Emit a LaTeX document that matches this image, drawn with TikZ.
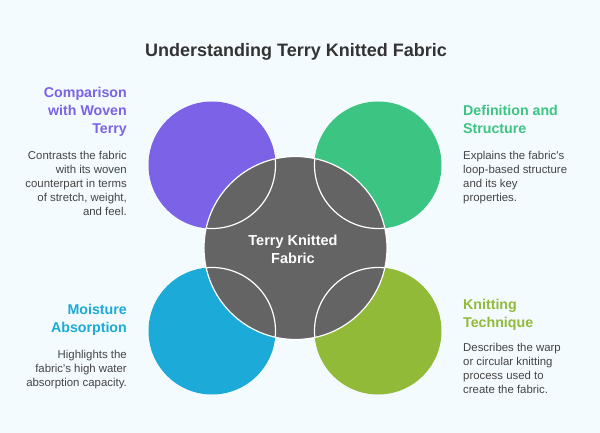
\documentclass[tikz,border=0pt]{standalone}
\usepackage{fontspec}
\setmainfont{Liberation Sans}
\usetikzlibrary{positioning}
\definecolor{bgcol}{RGB}{243,251,254}
\definecolor{titlecol}{RGB}{51,51,51}
\definecolor{bodycol}{RGB}{68,68,68}
\definecolor{hubcol}{RGB}{100,100,100}
\definecolor{purplecol}{RGB}{123,98,230}
\definecolor{greencol}{RGB}{60,196,130}
\definecolor{bluecol}{RGB}{28,170,216}
\definecolor{limecol}{RGB}{145,186,56}
\tikzstyle{petal} = [circle, minimum size=127pt, inner sep=0pt]
\tikzstyle{hub} = [circle, draw=white, line width=1.2pt, fill=hubcol, minimum size=183pt, inner sep=0pt]
\tikzstyle{headtext} = [inner sep=0pt, font=\bfseries\fontsize{14.2}{18}\selectfont]
\tikzstyle{bodytext} = [inner sep=0pt, text=bodycol, font=\fontsize{11.4}{14}\selectfont]

\begin{document}
\begin{tikzpicture}[x=1pt,y=-1pt]
\useasboundingbox[fill=bgcol] (0,0) rectangle (600,433);
\node[text=titlecol, anchor=base, font=\bfseries\fontsize{18}{22}\selectfont] (title) at (296,57) {Understanding Terry Knitted Fabric};

% outer circles
\node[petal, fill=purplecol] (comp) at (212,165) {};
\node[petal, fill=greencol] (defn) at (378,165) {};
\node[petal, fill=bluecol] (moist) at (212,331) {};
\node[petal, fill=limecol] (knit) at (378,331) {};

% centre
\node[hub] (center) at (295.5,248) {};
\begin{scope}
\clip (center.center) circle (91pt);
\foreach \n in {comp,defn,moist,knit}
  \draw[white, line width=1.2pt] (\n.center) circle (63.5pt);
\end{scope}
\node[text=white, align=center, font=\bfseries\fontsize{14.5}{18}\selectfont] (centerlabel) at (293,249) {Terry Knitted\\Fabric};

% left side texts
\node[headtext, text=purplecol, align=right, anchor=base east] (comphead) at (127,134) {Comparison\\with Woven\\Terry};
\node[bodytext, align=right, anchor=base east] (compbody) at (127,215) {Contrasts the fabric\\with its woven\\counterpart in terms\\of stretch, weight,\\and feel.};
\node[headtext, text=bluecol, align=right, anchor=base east] (moisthead) at (127,332) {Moisture\\Absorption};
\node[bodytext, align=right, anchor=base east] (moistbody) at (127,386) {Highlights the\\fabric\textquotesingle s high water\\absorption capacity.};

% right side texts
\node[headtext, text=greencol, align=left, anchor=base west] (defnhead) at (463,134) {Definition and\\Structure};
\node[bodytext, align=left, anchor=base west] (defnbody) at (463,201) {Explains the fabric\textquotesingle s\\loop-based structure\\and its key\\properties.};
\node[headtext, text=limecol, align=left, anchor=base west] (knithead) at (463,327) {Knitting\\Technique};
\node[bodytext, align=left, anchor=base west] (knitbody) at (463,393) {Describes the warp\\or circular knitting\\process used to\\create the fabric.};
\end{tikzpicture}
\end{document}
